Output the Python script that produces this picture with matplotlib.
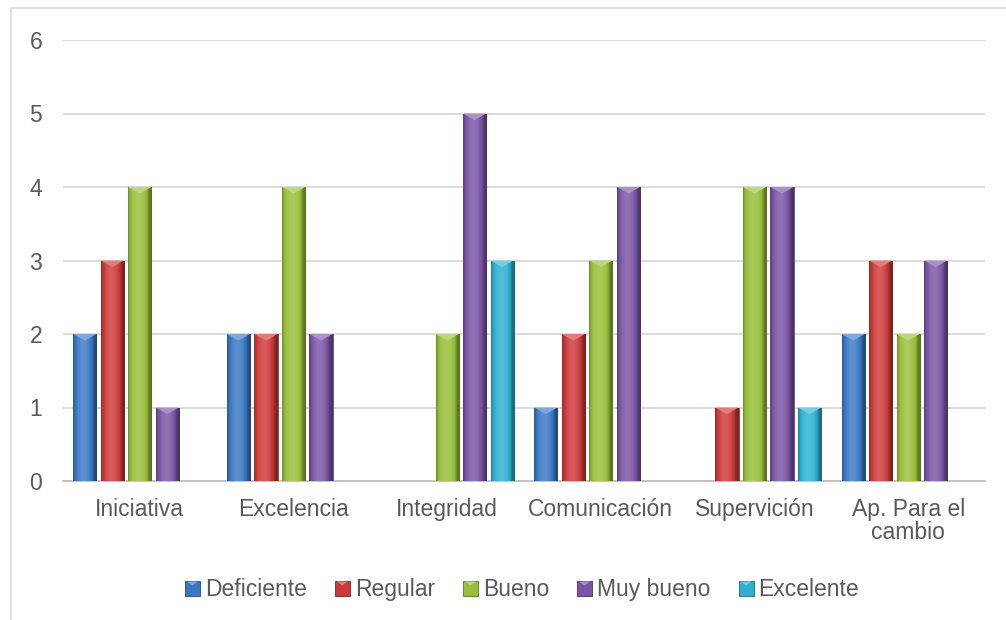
import numpy as np
import matplotlib
matplotlib.use('Agg')
import matplotlib.pyplot as plt
from matplotlib.colors import to_rgb
from matplotlib.patches import Polygon, Rectangle

categories = ['Iniciativa', 'Excelencia', 'Integridad', 'Comunicación', 'Supervición', 'Ap. Para el\ncambio']
series_names = ['Deficiente', 'Regular', 'Bueno', 'Muy bueno', 'Excelente']
deficiente = [2, 2, 0, 1, 0, 2]
regular = [3, 2, 0, 2, 1, 3]
bueno = [4, 4, 2, 3, 4, 2]
muy_bueno = [1, 2, 5, 4, 4, 3]
excelente = [0, 0, 3, 0, 1, 0]
y_ticks = [0, 1, 2, 3, 4, 5, 6]

series_values = [deficiente, regular, bueno, muy_bueno, excelente]
series_colors = ['#3a78c4', '#cc3a38', '#98bf3a', '#7a55a6', '#2eb0cf']

plt.rcParams['font.family'] = ['Liberation Sans', 'DejaVu Sans']
TEXT_COLOR = '#595959'
GRID_COLOR = '#d9d9d9'
FONT_SIZE = 16.5
W, H = 1006, 620


def shade(color, factor):
    rgb = np.array(to_rgb(color))
    if factor >= 1:
        return tuple(rgb + (1 - rgb) * (factor - 1))
    return tuple(rgb * factor)


def gradient_strip(color):
    t = np.linspace(0, 1, 40)
    f = 0.72 + 0.45 * np.sin(np.pi * np.clip(t * 1.15, 0, 1)) ** 0.6
    f = np.where(t > 0.85, f * (1 - (t - 0.85) * 1.3), f)
    return np.array([shade(color, v) for v in f])[None, :, :]


def gradient_bar(ax, patch, color):
    # horizontal shading across the bar plus a bevelled tip
    x0, y0 = patch.get_x(), patch.get_y()
    w, h = patch.get_width(), patch.get_height()
    if h <= 0:
        patch.set_visible(False)
        return
    img = ax.imshow(gradient_strip(color), extent=(x0, x0 + w, y0, y0 + h), aspect='auto',
                    interpolation='bilinear', zorder=3)
    img.set_clip_path(patch)
    patch.set_facecolor('none')
    patch.set_edgecolor(shade(color, 0.7))
    patch.set_linewidth(0.6)
    tip = 0.09
    tri = Polygon([(x0, y0 + h), (x0 + w, y0 + h), (x0 + w / 2, y0 + h - tip)],
                  closed=True, facecolor=shade(color, 1.35), edgecolor='none', zorder=4)
    ax.add_patch(tri)


def draw_legend(fig, names, colors, center_x, center_y):
    # one row: square swatch, small gap, label; laid out from measured text widths
    renderer = fig.canvas.get_renderer()
    box, gap, col_gap = 15, 5, 28
    texts = [fig.text(0, 0, n, fontsize=FONT_SIZE, color=TEXT_COLOR, va='baseline', ha='left')
             for n in names]
    widths = [t.get_window_extent(renderer).width for t in texts]
    total = sum(box + gap + tw for tw in widths) + col_gap * (len(names) - 1)
    x = center_x - total / 2
    for t, tw, c in zip(texts, widths, colors):
        fig.patches.append(Rectangle((x / W, (center_y - box / 2) / H), box / W, box / H,
                                     transform=fig.transFigure, facecolor=c,
                                     edgecolor=shade(c, 0.6), linewidth=0.6))
        fig.patches.append(Polygon([((x + 2) / W, (center_y + box / 2 - 1) / H),
                                    ((x + box - 2) / W, (center_y + box / 2 - 1) / H),
                                    ((x + box / 2) / W, (center_y + box / 2 - 5) / H)],
                                   transform=fig.transFigure, facecolor=shade(c, 1.35),
                                   edgecolor='none'))
        t.set_position(((x + box + gap) / W, (center_y - 8) / H))
        x += box + gap + tw + col_gap


fig = plt.figure(figsize=(W / 100, H / 100), dpi=100)
fig.patches.append(Rectangle((11 / W, -0.05), 1.2, 1.05 - 8 / H, transform=fig.transFigure,
                             facecolor='white', edgecolor=GRID_COLOR, linewidth=1.2, zorder=-1))
ax = fig.add_axes([63 / W, 1 - 481 / H, (985 - 63) / W, (481 - 40) / H])
ax.set_facecolor('none')

x = np.arange(len(categories))
pitch = 0.179
width = 0.15
for i, (name, values, color) in enumerate(zip(series_names, series_values, series_colors)):
    offset = (i - 2) * pitch
    bars = ax.bar(x + offset, values, width, color=color, label=name, zorder=3)
    for patch in bars.patches:
        gradient_bar(ax, patch, color)

ax.set_xlim(-0.5, len(categories) - 0.5)
ax.set_ylim(0, 6)
ax.set_yticks(y_ticks)
ax.set_xticks(x)
ax.set_xticklabels(categories, fontsize=FONT_SIZE, color=TEXT_COLOR, linespacing=1.0)
ax.tick_params(axis='y', labelsize=FONT_SIZE, labelcolor=TEXT_COLOR, length=0, pad=15)
ax.tick_params(axis='x', length=0, pad=12)
ax.grid(axis='y', color=GRID_COLOR, linewidth=1.3, zorder=0)
ax.set_axisbelow(True)
for side in ['top', 'right', 'left']:
    ax.spines[side].set_visible(False)
ax.spines['bottom'].set_color('#bfbfbf')
ax.spines['bottom'].set_linewidth(1.3)

draw_legend(fig, series_names, series_colors, 522, H - 588)

fig.savefig('out.png', dpi=100)
